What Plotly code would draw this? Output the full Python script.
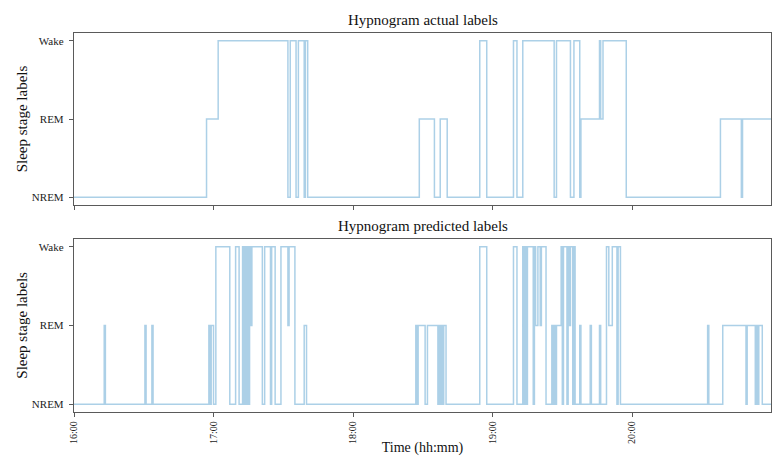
import plotly.graph_objects as go

DAY = "2024-01-01 "

# ---- Actual labels (change points: clock time, stage) ----
actual_times = [
    "16:00:00", "16:57:00", "17:02:00", "17:32:00", "17:33:00", "17:35:30",
    "17:36:30", "17:39:00", "17:39:30", "17:40:30", "18:28:30", "18:35:00",
    "18:37:30", "18:40:30", "18:54:30", "18:57:30", "19:09:00", "19:10:30",
    "19:13:00", "19:26:30", "19:27:30", "19:33:30", "19:35:00", "19:37:30",
    "19:38:00", "19:46:00", "19:46:30", "19:47:30", "19:57:30", "20:38:00",
    "20:47:00", "20:47:30", "20:59:45",
]
actual_stages = [
    "NREM", "REM", "Wake", "NREM", "Wake", "NREM",
    "Wake", "NREM", "Wake", "NREM", "REM", "NREM",
    "REM", "NREM", "Wake", "NREM", "Wake", "NREM",
    "Wake", "NREM", "Wake", "NREM", "Wake", "NREM",
    "REM", "Wake", "REM", "Wake", "NREM", "REM",
    "NREM", "REM", "REM",
]

# ---- Predicted labels (change points: clock time, stage) ----
pred_times = [
    "16:00:00", "16:13:00", "16:13:30", "16:30:30", "16:31:00", "16:33:30",
    "16:34:00", "16:58:00", "16:58:30", "16:59:00", "17:00:00", "17:01:00",
    "17:07:00", "17:09:30", "17:11:00", "17:12:30", "17:13:00", "17:13:30",
    "17:14:00", "17:14:30", "17:15:00", "17:15:30", "17:16:00", "17:16:30",
    "17:21:00", "17:22:00", "17:24:30", "17:25:00", "17:26:30", "17:29:00",
    "17:32:00", "17:32:30", "17:35:00", "17:39:00", "17:40:00", "18:27:00",
    "18:27:30", "18:28:00", "18:31:00", "18:32:00", "18:36:30", "18:37:00",
    "18:37:30", "18:38:00", "18:38:30", "18:39:00", "18:40:00", "18:54:30",
    "18:57:30", "19:09:00", "19:10:30", "19:13:00", "19:13:30", "19:14:00",
    "19:14:30", "19:15:00", "19:17:30", "19:18:00", "19:18:30", "19:19:30",
    "19:20:30", "19:21:00", "19:23:00", "19:25:30", "19:26:00", "19:26:30",
    "19:27:00", "19:27:30", "19:29:30", "19:30:00", "19:30:30", "19:32:00",
    "19:32:30", "19:33:00", "19:33:30", "19:34:30", "19:35:00", "19:35:30",
    "19:37:30", "19:38:00", "19:42:00", "19:42:30", "19:46:00", "19:46:30",
    "19:49:00", "19:50:00", "19:51:30", "19:53:30", "19:54:00", "19:55:00",
    "20:32:30", "20:33:00", "20:39:00", "20:49:00", "20:49:30", "20:53:00",
    "20:53:30", "20:54:00", "20:54:30", "20:56:00", "20:59:45",
]
pred_stages = [
    "NREM", "REM", "NREM", "REM", "NREM", "REM",
    "NREM", "REM", "NREM", "REM", "NREM", "Wake",
    "NREM", "Wake", "NREM", "Wake", "NREM", "Wake",
    "NREM", "Wake", "NREM", "Wake", "REM", "Wake",
    "NREM", "Wake", "NREM", "Wake", "NREM", "Wake",
    "REM", "Wake", "NREM", "REM", "NREM", "REM",
    "NREM", "REM", "NREM", "REM", "NREM", "REM",
    "NREM", "REM", "NREM", "REM", "NREM", "Wake",
    "NREM", "Wake", "NREM", "Wake", "NREM", "Wake",
    "NREM", "Wake", "NREM", "Wake", "REM", "Wake",
    "REM", "Wake", "NREM", "REM", "NREM", "REM",
    "NREM", "REM", "Wake", "NREM", "Wake", "NREM",
    "Wake", "REM", "Wake", "NREM", "Wake", "NREM",
    "REM", "NREM", "REM", "NREM", "REM", "NREM",
    "Wake", "REM", "Wake", "NREM", "Wake", "NREM",
    "REM", "NREM", "REM", "NREM", "REM", "NREM",
    "REM", "NREM", "REM", "NREM", "NREM",
]

stage_order = ["NREM", "REM", "Wake"]
x_tick_times = ["16:00", "17:00", "18:00", "19:00", "20:00"]
x_start, x_end = "16:00:00", "20:59:45"

titles = ["Hypnogram actual labels", "Hypnogram predicted labels"]
y_title = "Sleep stage labels"
x_title = "Time (hh:mm)"

LINE = "rgba(140,190,222,0.72)"
FRAME = "#5a5a5a"
FONT = "Liberation Serif"

fig = go.Figure()
fig.add_trace(go.Scatter(
    x=[DAY + t for t in actual_times], y=actual_stages, mode="lines",
    line=dict(shape="hv", color=LINE, width=1.5), xaxis="x", yaxis="y",
    showlegend=False,
))
fig.add_trace(go.Scatter(
    x=[DAY + t for t in pred_times], y=pred_stages, mode="lines",
    line=dict(shape="hv", color=LINE, width=1.5), xaxis="x2", yaxis="y2",
    showlegend=False,
))

xcommon = dict(
    type="date", range=[DAY + x_start, DAY + x_end],
    tickvals=[DAY + t for t in x_tick_times],
    ticks="outside", ticklen=4, tickcolor=FRAME, tickwidth=1,
    showline=True, linecolor=FRAME, linewidth=1.3, mirror=True,
    showgrid=False, zeroline=False, automargin=False,
)
ycommon = dict(
    type="category", categoryorder="array", categoryarray=stage_order,
    range=[-0.1, 2.1],
    ticks="outside", ticklen=4, tickcolor=FRAME, tickwidth=1,
    ticklabelstandoff=3,
    showline=True, linecolor=FRAME, linewidth=1.3, mirror=True,
    showgrid=False, zeroline=False, automargin=False,
    tickfont=dict(family=FONT, size=11, color="#222"),
    title=dict(text=y_title, font=dict(family=FONT, size=15, color="#111"), standoff=0),
)

fig.update_layout(
    width=776, height=456,
    margin=dict(l=74, r=5, t=33, b=44),
    paper_bgcolor="white", plot_bgcolor="white",
    font=dict(family=FONT, color="#111"),
    xaxis=dict(**xcommon, domain=[0, 1], anchor="y", showticklabels=False),
    yaxis=dict(**ycommon, domain=[0.546, 1], anchor="x"),
    xaxis2=dict(**xcommon, domain=[0, 1], anchor="y2", matches="x",
                tickformat="%H:%M", tickangle=-90,
                tickfont=dict(family=FONT, size=10, color="#222"),
                title=dict(text=x_title, font=dict(family=FONT, size=14, color="#111"), standoff=4)),
    yaxis2=dict(**ycommon, domain=[0, 0.457], anchor="x2"),
    annotations=[
        dict(text=titles[0], xref="paper", yref="paper", x=0.5, y=1,
             xanchor="center", yanchor="bottom", yshift=3, showarrow=False,
             font=dict(family=FONT, size=15, color="#111")),
        dict(text=titles[1], xref="paper", yref="paper", x=0.5, y=0.457,
             xanchor="center", yanchor="bottom", yshift=3, showarrow=False,
             font=dict(family=FONT, size=15, color="#111")),
    ],
)

fig.write_html("out.html")
